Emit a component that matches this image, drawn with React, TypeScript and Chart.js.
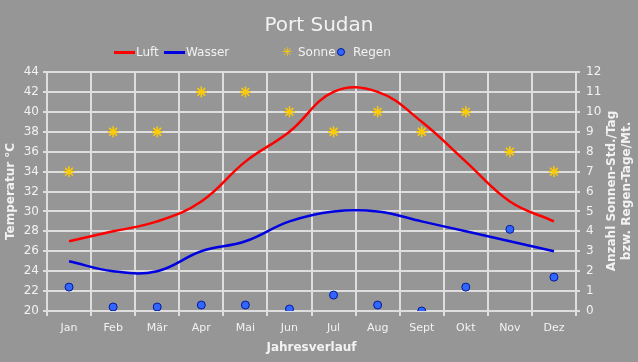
import React, { useEffect, useRef } from "react";
import { Chart, registerables } from "chart.js";

Chart.register(...registerables);

const months = ["Jan", "Feb", "Mär", "Apr", "Mai", "Jun", "Jul", "Aug", "Sept", "Okt", "Nov", "Dez"];
const luft = [27, 28, 29, 31, 35, 38, 42, 42, 39, 35, 31, 29];
const wasser = [25, 24, 24, 26, 27, 29, 30, 30, 29, 28, 27, 26];
const sonne = [7, 9, 9, 11, 11, 10, 9, 10, 9, 10, 8, 7];
const regen = [1.2, 0.2, 0.2, 0.3, 0.3, 0.1, 0.8, 0.3, 0, 1.2, 4.1, 1.7];

const FONT = "DejaVu Sans";
const TXT = "#f2f2f2";
const GRID = "#dedede";

export default function App() {
  const ref = useRef<HTMLCanvasElement | null>(null);
  useEffect(() => {
    document.body.style.margin = "0";
    const ctx = ref.current!.getContext("2d")!;
    const chart = new Chart(ctx, {
      type: "line",
      data: {
        labels: months,
        datasets: [
          { label: "Luft", data: luft, borderColor: "#ff0000", borderWidth: 2.5, pointRadius: 0, tension: 0.4, yAxisID: "y", order: 3, fill: false },
          { label: "Wasser", data: wasser, borderColor: "#0000e0", borderWidth: 2.5, pointRadius: 0, tension: 0.4, yAxisID: "y", order: 3, fill: false },
          { label: "Sonne", data: sonne, showLine: false, pointStyle: "star", pointRadius: 5.5, borderColor: "#ffcc00", backgroundColor: "#ffcc00", pointBorderWidth: 1.5, yAxisID: "y2", order: 1 },
          { label: "Regen", data: regen, showLine: false, pointStyle: "circle", pointRadius: 4, borderColor: "#001a99", backgroundColor: "#3366ff", pointBorderWidth: 1, yAxisID: "y2", order: 1 },
        ],
      },
      options: {
        animation: false,
        responsive: false,
        maintainAspectRatio: false,
        layout: { padding: { top: 72, left: 0, right: 0, bottom: 7 } },
        plugins: { legend: { display: false }, title: { display: false }, tooltip: { enabled: false } },
        scales: {
          x: {
            offset: true,
            grid: { color: GRID, lineWidth: 2, offset: true, tickLength: 5, drawOnChartArea: true },
            border: { color: GRID, width: 2 },
            ticks: { color: TXT, font: { family: FONT, size: 11 }, padding: 6, maxRotation: 0, autoSkip: false },
            title: { display: true, text: "Jahresverlauf", color: TXT, font: { family: FONT, size: 12, weight: "bold" }, padding: { top: 2, bottom: 0 } },
            afterFit: (s: any) => { s.height = 44; },
          },
          y: {
            position: "left",
            min: 20,
            max: 44,
            ticks: { stepSize: 2, color: TXT, font: { family: FONT, size: 12 }, padding: 4 },
            grid: { color: GRID, lineWidth: 2, tickLength: 4 },
            border: { color: GRID, width: 2 },
            title: { display: true, text: "Temperatur °C", color: TXT, font: { family: FONT, size: 12, weight: "bold" }, padding: { top: 4, bottom: 2 } },
            afterFit: (s: any) => { s.width = 47; },
          },
          y2: {
            position: "right",
            min: 0,
            max: 12,
            ticks: { stepSize: 1, color: TXT, font: { family: FONT, size: 12 }, padding: 6 },
            grid: { drawOnChartArea: false, color: GRID, lineWidth: 2, tickLength: 4 },
            border: { color: GRID, width: 2 },
            title: { display: false },
            afterFit: (s: any) => { s.width = 62; },
          },
        },
      },
    } as any);
    return () => chart.destroy();
  }, []);

  const legendText: React.CSSProperties = { position: "absolute", top: 45, color: TXT, fontFamily: FONT, fontSize: 12, lineHeight: "14px" };
  const line = (color: string, left: number): React.CSSProperties => ({ position: "absolute", top: 51, left, width: 21, height: 2.5, background: color });

  return (
    <div style={{ position: "fixed", left: 0, top: 0, width: 638, height: 362, background: "#969696", overflow: "hidden" }}>
      <canvas ref={ref} width={638} height={362} style={{ position: "absolute", left: 0, top: 0 }} />
      <div style={{ position: "absolute", top: 12, left: 0, width: 638, textAlign: "center", color: TXT, fontFamily: FONT, fontSize: 20 }}>Port Sudan</div>
      <div style={line("#ff0000", 114)} />
      <div style={{ ...legendText, left: 136 }}>Luft</div>
      <div style={line("#0000e0", 164)} />
      <div style={{ ...legendText, left: 186 }}>Wasser</div>
      <div style={{ ...legendText, left: 282, color: "#ffcc00", fontWeight: "bold" }}>✳</div>
      <div style={{ ...legendText, left: 298 }}>Sonne</div>
      <div style={{ position: "absolute", top: 48, left: 337, width: 6, height: 6, borderRadius: "50%", background: "#3366ff", border: "1px solid #001a99" }} />
      <div style={{ ...legendText, left: 353 }}>Regen</div>
      <div
        style={{
          position: "absolute",
          left: 620 - 100,
          top: 191 - 16,
          width: 200,
          height: 32,
          transform: "rotate(-90deg)",
          transformOrigin: "50% 50%",
          textAlign: "center",
          color: TXT,
          fontFamily: FONT,
          fontSize: 12,
          fontWeight: "bold",
          lineHeight: "15px",
        }}
      >
        <div>Anzahl Sonnen-Std./Tag</div>
        <div>bzw. Regen-Tage/Mt.</div>
      </div>
    </div>
  );
}
